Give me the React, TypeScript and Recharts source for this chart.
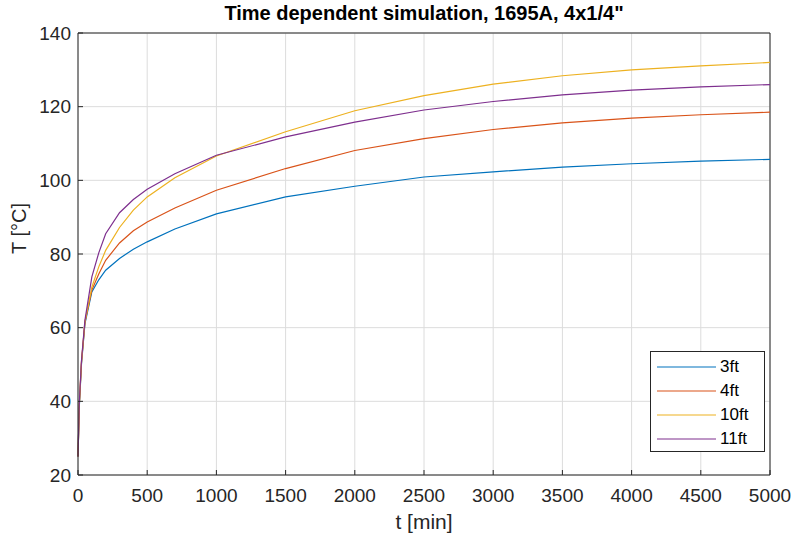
import { LineChart, Line, XAxis, YAxis, CartesianGrid, ReferenceLine } from "recharts";

// time axis, minutes
const time = [0, 10, 25, 50, 100, 150, 200, 300, 400, 500, 700, 1000, 1500, 2000, 2500, 3000, 3500, 4000, 4500, 5000];

// temperatures per conductor length, °C
const t3ft = [25, 39, 50, 61, 69.7, 73.0, 75.6, 78.8, 81.3, 83.3, 86.8, 90.9, 95.5, 98.4, 100.9, 102.3, 103.6, 104.5, 105.2, 105.7];
const t4ft = [25, 39.5, 50.5, 61.5, 70.2, 74.6, 78.3, 83.0, 86.3, 88.7, 92.5, 97.3, 103.2, 108.1, 111.3, 113.8, 115.6, 116.9, 117.8, 118.5];
const t10ft = [25, 39.5, 50.5, 61.5, 71, 76.5, 81, 87.2, 91.9, 95.5, 100.7, 106.6, 113.2, 118.9, 123, 126.1, 128.4, 130, 131.1, 132];
const t11ft = [25, 40, 51, 62, 73.8, 80.3, 85.5, 91.2, 94.8, 97.6, 101.8, 106.8, 111.8, 115.8, 119.1, 121.4, 123.2, 124.5, 125.4, 126];

const xTicks = [0, 500, 1000, 1500, 2000, 2500, 3000, 3500, 4000, 4500, 5000];
const yTicks = [20, 40, 60, 80, 100, 120, 140];

const series = [
  { key: "3ft", color: "#0072BD" },
  { key: "4ft", color: "#D95319" },
  { key: "10ft", color: "#EDB120" },
  { key: "11ft", color: "#7E2F8E" },
];

const data = time.map((t, i) => ({
  t,
  "3ft": t3ft[i],
  "4ft": t4ft[i],
  "10ft": t10ft[i],
  "11ft": t11ft[i],
}));

const font = "'Liberation Sans', Arial, Helvetica, sans-serif";
const axisColor = "#262626";

function LegendBox() {
  return (
    <div
      style={{
        position: "absolute",
        left: 650,
        top: 351,
        width: 115,
        height: 101,
        border: "1px solid #262626",
        background: "#fff",
        fontFamily: font,
        fontSize: 17,
        color: "#000",
        boxSizing: "border-box",
        paddingTop: 3,
      }}
    >
      {series.map((s) => (
        <div key={s.key} style={{ display: "flex", alignItems: "center", height: 24 }}>
          <svg width={69} height={10} style={{ display: "block" }}>
            <line x1={6} x2={65} y1={5} y2={5} stroke={s.color} strokeWidth={1.2} />
          </svg>
          <span>{s.key}</span>
        </div>
      ))}
    </div>
  );
}

export default function App() {
  return (
    <div style={{ position: "absolute", left: 0, top: 0, width: 797, height: 538, background: "#fff" }}>
      <div
        style={{
          position: "absolute",
          left: 78,
          width: 692,
          top: 2,
          textAlign: "center",
          fontFamily: font,
          fontWeight: "bold",
          fontSize: 20,
          color: "#000",
        }}
      >
        Time dependent simulation, 1695A, 4x1/4"
      </div>
      <LineChart
        width={797}
        height={538}
        data={data}
        margin={{ top: 33, right: 27, bottom: 8, left: 0 }}
        style={{ fontFamily: font }}
      >
        <CartesianGrid stroke="#dcdcdc" strokeWidth={1} />
        <XAxis
          dataKey="t"
          type="number"
          domain={[0, 5000]}
          ticks={xTicks}
          height={55}
          stroke={axisColor}
          tickSize={-5}
          tickMargin={19}
          tick={{ fill: axisColor, fontSize: 19 }}
          label={{ value: "t [min]", position: "insideBottom", offset: 1, fill: axisColor, fontSize: 21 }}
        />
        <YAxis
          type="number"
          domain={[20, 140]}
          ticks={yTicks}
          width={78}
          stroke={axisColor}
          tickSize={-5}
          tickMargin={12}
          tick={{ fill: axisColor, fontSize: 19 }}
          label={{ value: "T [°C]", angle: -90, position: "insideLeft", offset: 19, fill: axisColor, fontSize: 20 }}
        />
        <ReferenceLine y={140} stroke={axisColor} />
        <ReferenceLine x={5000} stroke={axisColor} />
        {series.map((s) => (
          <Line
            key={s.key}
            type="linear"
            dataKey={s.key}
            stroke={s.color}
            strokeWidth={1.2}
            dot={false}
            isAnimationActive={false}
          />
        ))}
      </LineChart>
      <LegendBox />
    </div>
  );
}
